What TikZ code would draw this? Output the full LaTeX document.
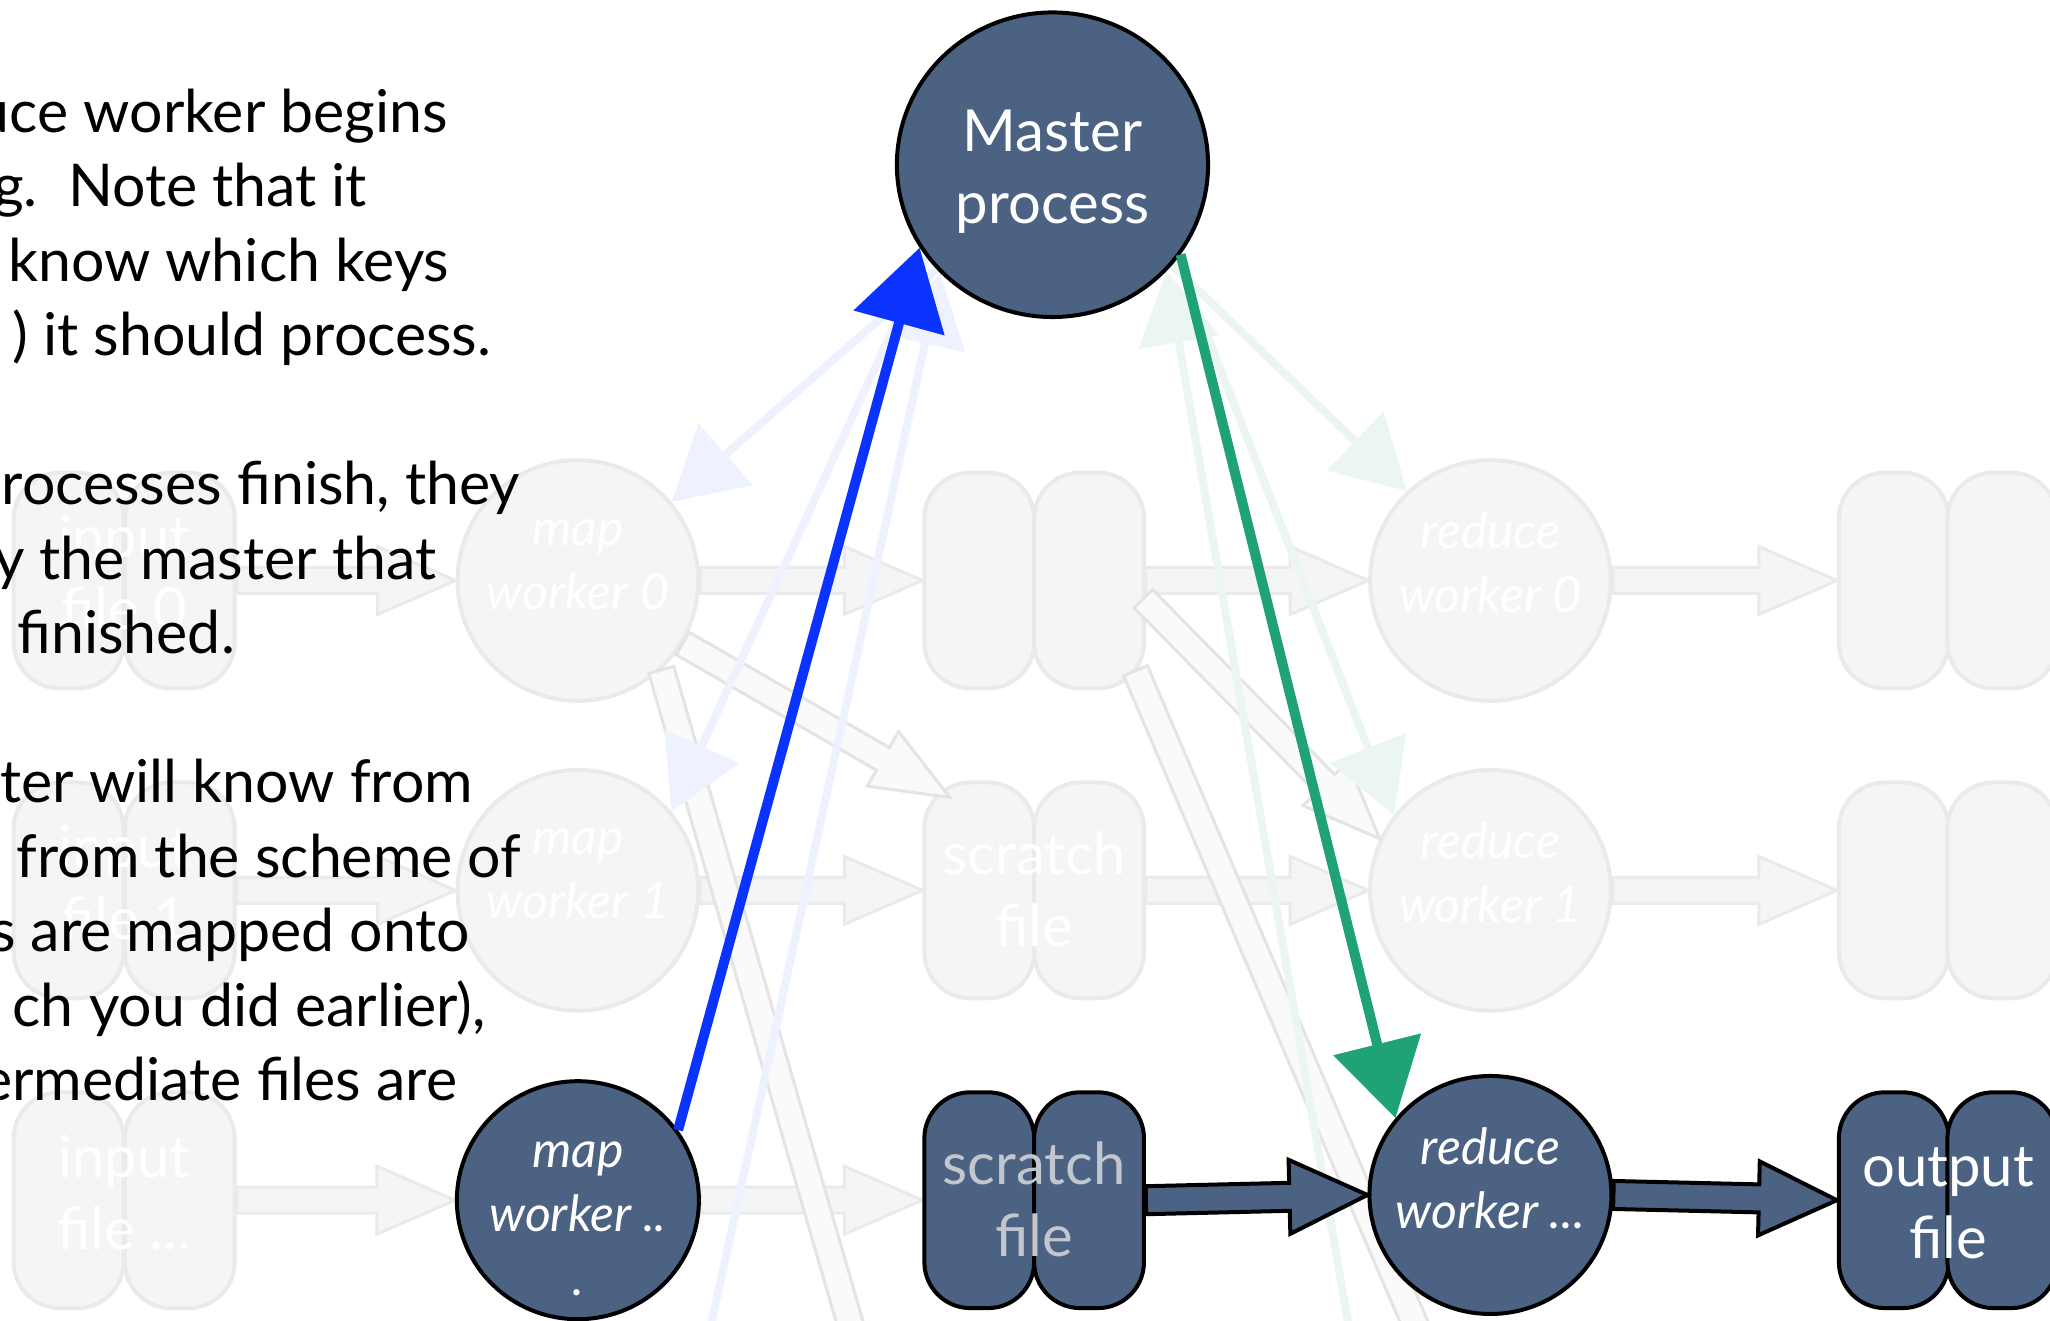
\documentclass[tikz,border=0pt]{standalone}
\usepackage{fontspec}
\setmainfont{Lato}
\usetikzlibrary{shapes.geometric,arrows.meta,calc}
\pgfdeclarelayer{back}
\pgfsetlayers{back,main}
\definecolor{slate}{HTML}{4C6283}
\definecolor{fadefill}{HTML}{F4F5F7}
\definecolor{fadeline}{HTML}{EAEAEC}
\definecolor{crossfill}{HTML}{FAFAFA}
\definecolor{crossline}{HTML}{E4E4E4}
\definecolor{brightblue}{HTML}{0A33FF}
\definecolor{brightgreen}{HTML}{1FA374}
\definecolor{paleblue}{HTML}{EEF2FF}
\definecolor{palegreen}{HTML}{EBF6F1}
\definecolor{scratchtext}{HTML}{C2C7CF}
% block arrow: style, from, to, shaft half width, head half width, head length
\newcommand\blkarrow[6]{%
  \coordinate (bah) at ($(#3)!#6!(#2)$);
  \path[#1] ($(#2)!#4!90:(#3)$) -- ($(bah)!#4!90:(#3)$) -- ($(bah)!#5!90:(#3)$)
    -- (#3) -- ($(bah)!#5!-90:(#3)$) -- ($(bah)!#4!-90:(#3)$) -- ($(#2)!#4!-90:(#3)$) -- cycle;}
\begin{document}
\begin{tikzpicture}[x=0.6537pt,y=-0.6537pt,
  pill/.style={rectangle, rounded corners=23pt, minimum width=54.9pt, minimum height=107.9pt, inner sep=0pt},
  wkr/.style={ellipse, inner sep=0pt, minimum width=120.3pt, minimum height=120.3pt},
  dark/.style={draw=black, line width=2pt, fill=slate},
  faded/.style={draw=fadeline, line width=2pt, fill=fadefill},
  lbl/.style={align=center, inner sep=0pt, font=\fontsize{29}{36}\selectfont},
  ilbl/.style={align=center, inner sep=0pt, font=\fontsize{25}{32}\selectfont\itshape},
  body/.style={anchor=base east, inner sep=0pt, text=black, font=\fontsize{29.5}{36}\selectfont},
  fadearrow/.style={draw=fadeline, line width=1.5pt, fill=fadefill},
  crossarrow/.style={draw=crossline, line width=1.5pt, fill=crossfill},
  darkarrow/.style={draw=black, line width=2pt, fill=slate, line join=miter},
  pblue/.style={draw=paleblue, line width=4pt, -{Triangle[length=36pt,width=40pt]}},
  pgreen/.style={draw=palegreen, line width=4pt, -{Triangle[length=36pt,width=40pt]}},
  bblue/.style={draw=brightblue, line width=5pt, -{Triangle[length=39pt,width=46pt]}},
  bgreen/.style={draw=brightgreen, line width=5pt, -{Triangle[length=38pt,width=44pt]}}]
\useasboundingbox (0,0) rectangle (1568,1010);
% ---------- faded nodes ----------
\begin{pgfonlayer}{back}
\begin{scope}
\clip (0,0) rectangle (1568,1010);
\fill[white] (0,0) rectangle (1568,1010);
\foreach \r/\y in {0/444,1/681}{
  \node[faded,pill] (inA\r) at (52.5,\y) {};
  \node[faded,pill] (inB\r) at (137.5,\y) {};
  \node[faded,wkr] (map\r) at (442,\y) {};
  \node[faded,pill] (scA\r) at (749,\y) {};
  \node[faded,pill] (scB\r) at (833,\y) {};
  \node[faded,wkr] (red\r) at (1140,\y) {};
  \node[faded,pill] (outA\r) at (1448.5,\y) {};
  \node[faded,pill] (outB\r) at (1531.5,\y) {};
}
\node[faded,pill] (inA2) at (52.5,918) {};
\node[faded,pill] (inB2) at (137.5,918) {};
\node[lbl,text=white] (inT0) at (95,438) {input\\file 0};
\node[lbl,text=white] (inT1) at (95,675) {input\\file 1};
\node[lbl,text=white] (inT2) at (95,912) {input\\file ...};
\node[ilbl,text=white] (mapT0) at (442,432) {map\\worker 0};
\node[ilbl,text=white] (mapT1) at (442,668) {map\\worker 1};
\node[ilbl,text=white] (redT0) at (1140,430) {reduce\\worker 0};
\node[ilbl,text=white] (redT1) at (1140,667) {reduce\\worker 1};
\node[lbl,text=white] (scT1) at (791,680) {scratch\\file};
\end{scope}
\end{pgfonlayer}
% ---------- dark nodes ----------
\begin{scope}
\clip (0,0) rectangle (1568,1010);
\node[dark,ellipse,inner sep=0pt,minimum width=155.6pt,minimum height=152.3pt] (master) at (805,126) {};
\node[lbl,text=white] (masterT) at (805,131) {Master\\process};
\node[dark,wkr,minimum width=121pt,minimum height=119pt] (map2) at (442,918) {};
\node[ilbl,text=white] (mapT2) at (442,932) {map\\worker ..\\.};
\node[dark,pill] (scA2) at (749,918) {};
\node[dark,pill] (scB2) at (833,918) {};
\node[lbl,text=scratchtext] (scT2) at (791,917) {scratch\\file};
\node[dark,wkr,minimum width=121pt,minimum height=119pt] (red2) at (1140,914) {};
\node[ilbl,text=white] (redT2) at (1140,901) {reduce\\worker ...};
\node[dark,pill] (outA2) at (1448.5,918) {};
\node[dark,pill] (outB2) at (1531.5,918) {};
\node[lbl,text=white] (outT2) at (1490,920) {output\\file};
\end{scope}
% ---------- faded connectors ----------
\begin{pgfonlayer}{back}
\begin{scope}
\clip (0,0) rectangle (1568,1010);
\foreach \r in {0,1,2}{
  \blkarrow{fadearrow}{inB\r.east}{map\r.west}{6.5pt}{17pt}{39pt}
  \blkarrow{fadearrow}{map\r.east}{scA\r.west}{6.5pt}{17pt}{39pt}
}
\foreach \r in {0,1}{
  \blkarrow{fadearrow}{scB\r.east}{red\r.west}{6.5pt}{17pt}{39pt}
  \blkarrow{fadearrow}{red\r.east}{outA\r.west}{6.5pt}{17pt}{39pt}
}
\coordinate (c1e) at ($(scA1.north west)+(21,13)$);
\blkarrow{crossarrow}{map0.-31}{c1e}{6.5pt}{15.7pt}{38.6pt}
\coordinate (c2e) at (690,1150);
\blkarrow{crossarrow}{map0.-47}{c2e}{6.5pt}{15.7pt}{38.6pt}
\coordinate (c3s) at ($(scB0.east)+(-2,14)$);
\blkarrow{crossarrow}{c3s}{red1.155}{6.5pt}{15.7pt}{38.6pt}
\coordinate (c4s) at ($(scB0.south east)+(-8,-15)$);
\coordinate (c4e) at (1141,1150);
\blkarrow{crossarrow}{c4s}{c4e}{6.5pt}{15.7pt}{38.6pt}
\draw[pblue] (master.222) -- (map0.40);
\draw[pblue] (master.216) -- (map1.40);
\coordinate (fb3) at (538,1040);
\draw[pblue] (fb3) -- (master.224);
\draw[pgreen] (master.-40) -- (red0.133);
\draw[pgreen] (master.-37) -- (red1.142);
\coordinate (fg3) at (1036,1040);
\draw[pgreen] (fg3) -- (master.-43);
\end{scope}
\end{pgfonlayer}
% ---------- dark connectors, bright arrows, text ----------
\begin{scope}
\clip (0,0) rectangle (1568,1010);
\blkarrow{darkarrow}{scB2.east}{red2.west}{7pt}{18.5pt}{39pt}
\blkarrow{darkarrow}{red2.east}{outA2.west}{7pt}{18.5pt}{39pt}
\draw[bblue] (map2.35) -- (master.212);
\draw[bgreen] (master.-35) -- (red2.141);
\node[body] (t1) at (343,101) {uce worker begins};
\node[body] (t2) at (281,158) {g.\ \ Note that it};
\node[body] (t3) at (344,215) {know which keys};
\node[body] (t4) at (376,272) {) it should process.};
\node[body] (t5) at (398,386) {processes finish, they};
\node[body] (t6) at (334,443) {y the master that};
\node[body] (t7) at (180,500) {e finished.};
\node[body] (t8) at (362,614) {ter will know from};
\node[body] (t9) at (399,671) {from the scheme of};
\node[body] (t10) at (360,728) {s are mapped onto};
\node[body] (t11) at (372,785) {ch you did earlier),};
\node[body] (t12) at (350,842) {ermediate files are};
\end{scope}
\end{tikzpicture}
\end{document}
